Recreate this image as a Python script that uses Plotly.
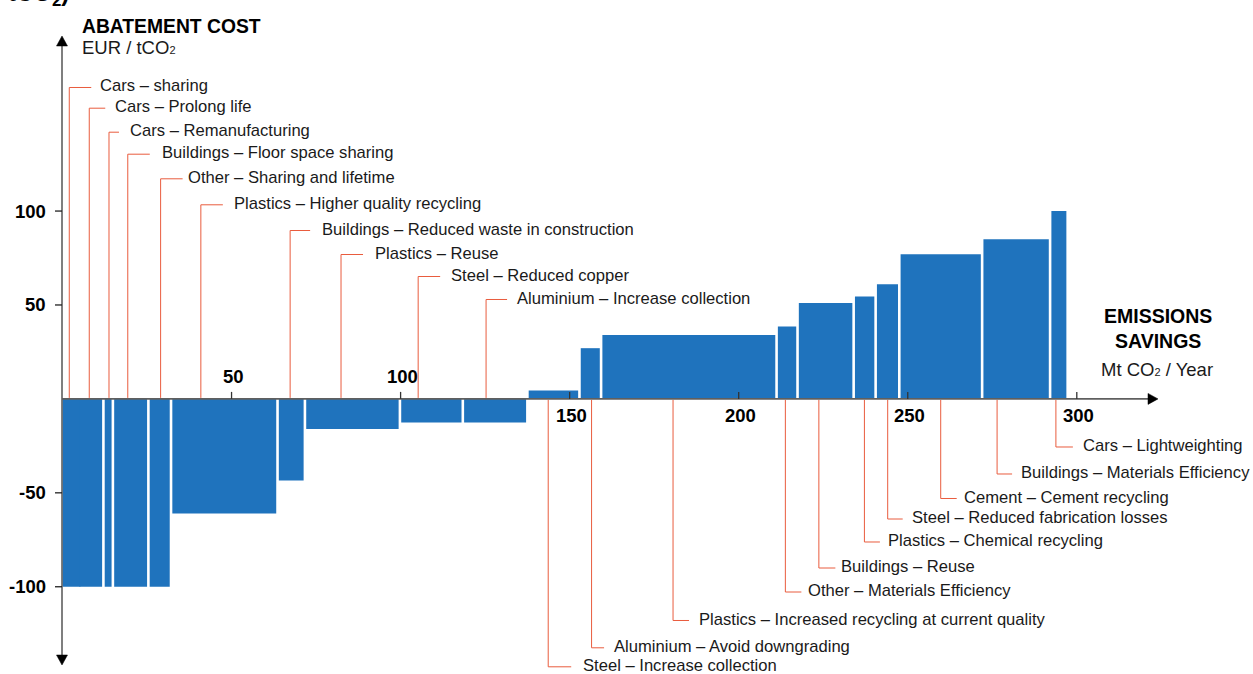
import plotly.graph_objects as go

# ---------------- data ----------------
measures = [
    "Cars – sharing", "Cars – Prolong life", "Cars – Remanufacturing",
    "Buildings – Floor space sharing", "Other – Sharing and lifetime",
    "Plastics – Higher quality recycling", "Buildings – Reduced waste in construction",
    "Plastics – Reuse", "Steel – Reduced copper", "Aluminium – Increase collection",
    "Steel – Increase collection", "Aluminium – Avoid downgrading",
    "Plastics – Increased recycling at current quality", "Other – Materials Efficiency",
    "Buildings – Reuse", "Plastics – Chemical recycling",
    "Steel – Reduced fabrication losses", "Cement – Cement recycling",
    "Buildings – Materials Efficiency", "Cars – Lightweighting",
]
savings = [5.0, 7.1, 2.8, 10.5, 6.7, 31.5, 8.1, 28.1, 18.6, 19.1,
           15.4, 6.4, 51.9, 6.2, 16.6, 6.5, 7.0, 24.5, 20.1, 5.2]      # Mt CO2 / year
costs = [-100, -100, -100, -100, -100, -61, -43.5, -16, -12.5, -12.5,
         4.5, 27, 34, 38.5, 51, 54.5, 61, 77, 85, 100]                    # EUR / tCO2
x_ticks = [50, 100, 150, 200, 250, 300]
y_ticks = [100, 50, -50, -100]

# ---------------- layout / style ----------------
W, H = 1253, 674
X0_PX, XS = 62.5, 3.381      # px of x=0, px per Mt
Y0_PX, YS = 398.9, 1.8785    # px of y=0, px per EUR
BAR_COLOR = "#1f73bd"
LEAD = "rgb(233,92,62)"
TXT = "#1a1a1a"
FONT = "Liberation Sans, Arial, Helvetica, sans-serif"
GAP_PX = 2.6
joined_after = {0}           # no visible gap between first two bars
SUB2 = '<span style="font-size:11px">2</span>'

# label placement (layout only)
lead_frac = [0.40, 0.41, 0.59, 0.42, 0.54, 0.28, 0.46, 0.38, 0.29, 0.36,
             0.40, 0.56, 0.41, 0.42, 0.38, 0.49, 0.51, 0.50, 0.22, 0.33]
label_y_px = [86, 106.7, 130.7, 152.7, 177.3, 203.3, 229, 253, 275, 298,
              665.3, 646.3, 619, 590.5, 566.5, 540.5, 517.5, 497, 472.5, 445.5]
arm_px = [22, 16, 10, 22, 22, 22, 20, 22, 22, 21,
          23, 12.5, 16, 16, 16.5, 15.5, 15, 16, 15, 17]
text_off_px = [31, 26, 21, 34.5, 27, 33, 32, 34, 33, 31,
               35, 22, 26, 22.5, 22.5, 23.5, 24.5, 23, 24, 27]
xtick_above = [True, True, False, False, False, False]
xtick_label_dy = {True: -22, False: 17}


def px_x(u):
    return X0_PX + XS * u


def px_y(v):
    return Y0_PX - YS * v


def pap_x(px):
    return px / W


def pap_y(py):
    return 1 - py / H


# bar geometry from cumulative savings
starts = []
acc = 0.0
for s in savings:
    starts.append(acc)
    acc += s
gu = GAP_PX / XS
lefts, rights = [], []
for i, (st, s) in enumerate(zip(starts, savings)):
    left = st + (gu / 2 if i > 0 and (i - 1) not in joined_after else 0)
    # joined bars overlap by ~1px so no seam shows
    right = st + s + (1.0 / XS if i in joined_after else -gu / 2)
    lefts.append(left)
    rights.append(right)
centers = [(l + r) / 2 for l, r in zip(lefts, rights)]
widths = [r - l for l, r in zip(lefts, rights)]

fig = go.Figure()
fig.add_trace(go.Bar(
    x=centers, y=costs, width=widths, base=0,
    marker=dict(color=BAR_COLOR, line=dict(width=0)),
    hovertext=measures, hoverinfo="text", showlegend=False,
))

shapes = []
annotations = []

# leader lines + labels
for i, name in enumerate(measures):
    u = starts[i] + lead_frac[i] * savings[i]
    lx = px_x(u)
    ty = label_y_px[i]
    arm_y = ty + 1.5
    y_from = Y0_PX - 1 if costs[i] < 0 else Y0_PX + 1
    path = "M {:.5f},{:.5f} L {:.5f},{:.5f} L {:.5f},{:.5f}".format(
        pap_x(lx), pap_y(y_from), pap_x(lx), pap_y(arm_y),
        pap_x(lx + arm_px[i]), pap_y(arm_y))
    shapes.append(dict(type="path", path=path, xref="paper", yref="paper",
                       line=dict(color=LEAD, width=1), layer="below"))
    annotations.append(dict(
        x=pap_x(lx + text_off_px[i] - 2), y=pap_y(ty), xref="paper", yref="paper",
        text=name, showarrow=False, xanchor="left", yanchor="middle",
        font=dict(family=FONT, size=16.6, color=TXT)))

AX = "#5f5f5f"
shapes.append(dict(type="line", xref="paper", yref="paper",
                   x0=pap_x(62), x1=pap_x(62), y0=pap_y(44), y1=pap_y(656),
                   line=dict(color=AX, width=1.6), layer="above"))
shapes.append(dict(type="line", xref="paper", yref="paper",
                   x0=pap_x(62), x1=pap_x(1150), y0=pap_y(Y0_PX), y1=pap_y(Y0_PX),
                   line=dict(color=AX, width=1.6), layer="above"))


def tri(points):
    p = " L ".join("{:.5f},{:.5f}".format(pap_x(a), pap_y(b)) for a, b in points)
    return "M " + p + " Z"


for pts in ([(62, 36), (56.5, 46), (67.5, 46)],
            [(62, 665), (56.5, 655), (67.5, 655)],
            [(1158, Y0_PX), (1148, Y0_PX - 5.5), (1148, Y0_PX + 5.5)]):
    shapes.append(dict(type="path", path=tri(pts), xref="paper", yref="paper",
                       fillcolor="black", line=dict(color="black", width=0.5), layer="above"))

# y ticks
for v in y_ticks:
    py = px_y(v)
    shapes.append(dict(type="line", xref="paper", yref="paper",
                       x0=pap_x(55), x1=pap_x(62), y0=pap_y(py), y1=pap_y(py),
                       line=dict(color="#222", width=1.3), layer="above"))
    annotations.append(dict(x=pap_x(48), y=pap_y(py), xref="paper", yref="paper",
                            text="<b>%d</b>" % v, showarrow=False, xanchor="right",
                            yanchor="middle",
                            font=dict(family=FONT, size=18.5, color="black")))
# x ticks
for t, above in zip(x_ticks, xtick_above):
    px = px_x(t)
    shapes.append(dict(type="line", xref="paper", yref="paper",
                       x0=pap_x(px), x1=pap_x(px), y0=pap_y(Y0_PX), y1=pap_y(Y0_PX - 7),
                       line=dict(color="#333", width=1.3), layer="above"))
    annotations.append(dict(x=pap_x(px + 1.5), y=pap_y(Y0_PX + xtick_label_dy[above]),
                            xref="paper", yref="paper",
                            text="<b>%d</b>" % t, showarrow=False, xanchor="center",
                            yanchor="middle",
                            font=dict(family=FONT, size=18.5, color="black")))

# axis titles
annotations += [
    dict(x=pap_x(80), y=pap_y(26), xref="paper", yref="paper",
         text="<b>ABATEMENT COST</b>", showarrow=False, xanchor="left", yanchor="middle",
         font=dict(family=FONT, size=19.3, color="black")),
    dict(x=pap_x(80), y=pap_y(47.5), xref="paper", yref="paper",
         text="EUR / tCO" + SUB2, showarrow=False, xanchor="left", yanchor="middle",
         font=dict(family=FONT, size=18.5, color=TXT)),
    dict(x=pap_x(1158), y=pap_y(316), xref="paper", yref="paper",
         text="<b>EMISSIONS</b>", showarrow=False, xanchor="center", yanchor="middle",
         font=dict(family=FONT, size=19.5, color="black")),
    dict(x=pap_x(1158), y=pap_y(340.5), xref="paper", yref="paper",
         text="<b>SAVINGS</b>", showarrow=False, xanchor="center", yanchor="middle",
         font=dict(family=FONT, size=19.5, color="black")),
    dict(x=pap_x(1157), y=pap_y(369), xref="paper", yref="paper",
         text="Mt CO" + SUB2 + " / Year", showarrow=False, xanchor="center",
         yanchor="middle", font=dict(family=FONT, size=18.5, color=TXT)),
    dict(x=pap_x(6), y=pap_y(-5), xref="paper", yref="paper",
         text="<b>tCO<sub>2</sub>)</b>", showarrow=False, xanchor="left", yanchor="middle",
         font=dict(family=FONT, size=24, color="black")),
]

fig.update_layout(
    width=W, height=H, autosize=False,
    margin=dict(l=0, r=0, t=0, b=0, pad=0),
    paper_bgcolor="white", plot_bgcolor="white",
    barmode="overlay",
    xaxis=dict(range=[-X0_PX / XS, (W - X0_PX) / XS], visible=False, fixedrange=True),
    yaxis=dict(range=[-(H - Y0_PX) / YS, Y0_PX / YS], visible=False, fixedrange=True),
    shapes=shapes, annotations=annotations, showlegend=False,
)

fig.write_html("out.html", post_script="document.body.style.margin='0';",
               config={"displayModeBar": False})
